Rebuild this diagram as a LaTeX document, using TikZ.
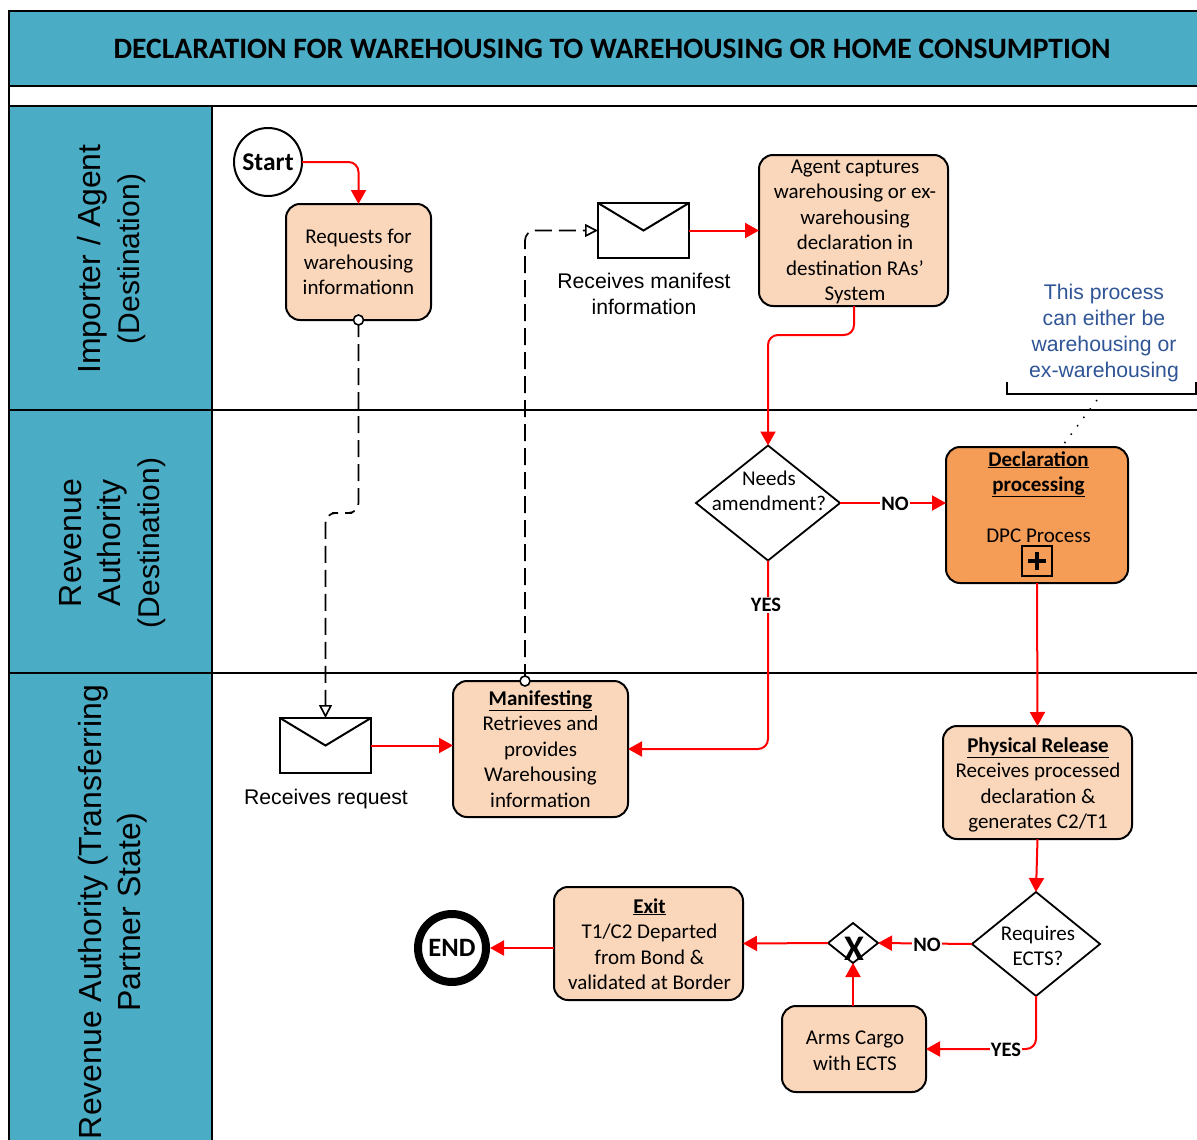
\documentclass[tikz,border=0pt]{standalone}
\usepackage{fontspec}
\setmainfont{Carlito}
\newfontfamily\lib{Liberation Sans}
\usetikzlibrary{arrows.meta,shapes.geometric,calc}
\definecolor{lanecol}{HTML}{4BACC6}
\definecolor{peach}{HTML}{FAD7BB}
\definecolor{orangebox}{HTML}{F59D56}
\definecolor{notecol}{HTML}{2F5597}
\newcommand{\hd}[1]{\underline{\textbf{#1}}}
\tikzset{
  x=1pt,y=-1pt,
  laneband/.style={draw=black,line width=2pt,fill=lanecol},
  sepline/.style={draw=black,line width=2pt},
  lanetext/.style={rotate=90,align=center,font=\lib\fontsize{32}{39}\selectfont,inner sep=0},
  taskbox/.style={draw=black,line width=2pt,rounded corners=14pt,fill=peach,inner sep=0,outer sep=0,align=center,font=\fontsize{21}{25.5}\selectfont},
  boxtext/.style={font=\fontsize{21}{25.5}\selectfont,align=center,inner sep=0},
  decbox/.style={diamond,draw=black,line width=1.8pt,fill=white,inner sep=0,outer sep=0,aspect=1.25,align=center,font=\fontsize{21}{25.5}\selectfont},
  envbox/.style={draw=black,line width=2pt,fill=white,inner sep=0,outer sep=0,minimum width=91pt,minimum height=55pt},
  captext/.style={align=center,inner sep=0,font=\lib\fontsize{21.2}{25.5}\selectfont},
  flowline/.style={draw=red,line width=2pt,rounded corners=10pt,-{Triangle[length=14pt,width=15pt,fill=red]}},
  msgline/.style={draw=black,line width=1.7pt,dash pattern=on 17pt off 7pt,rounded corners=10pt,-{Triangle[open,length=13pt,width=13pt,fill=white]}},
  dotmark/.style={circle,draw=black,line width=1.6pt,fill=white,minimum size=10pt,inner sep=0},
  lablebox/.style={fill=white,inner sep=1pt,font=\bfseries\fontsize{20.5}{24}\selectfont},
}
\begin{document}
\begin{tikzpicture}
\useasboundingbox (0,0) rectangle (1197,1140);
\fill[white] (0,0) rectangle (1197,1140);
\begin{scope}
\clip (0,0) rectangle (1197,1140);
% frame
\draw[laneband] (9,11) rectangle (1210,86);
\draw[sepline] (9,86) -- (9,1150);
\draw[sepline] (9,106) -- (1210,106);
\draw[laneband] (9,106) rectangle (212,1150);
\draw[sepline] (9,410) -- (1210,410);
\draw[sepline] (9,673) -- (1210,673);
\node[font=\bfseries\fontsize{29.6}{32}\selectfont,inner sep=0] (title) at (612,49) {DECLARATION FOR WAREHOUSING TO WAREHOUSING OR HOME CONSUMPTION};
\node[lanetext] (lane1) at (112,259) {Importer / Agent\\{\fontsize{30}{34}\selectfont(Destination)}};
\node[lanetext] (lane2) at (112.5,543) {Revenue\\Authority\\{\fontsize{30}{34}\selectfont(Destination)}};
\node[lanetext] (lane3) at (113,912) {Revenue Authority (Transferring\\Partner State)};
\end{scope}
% nodes
\node[circle,draw=black,line width=2pt,fill=white,minimum size=68pt,inner sep=0,outer sep=0,font=\bfseries\fontsize{25.5}{28}\selectfont] (start) at (268,162) {Start};
\node[taskbox,minimum width=145pt,minimum height=116pt] (req) at (358.5,262) {Requests for\\warehousing\\informationn};
\node[envbox] (env2) at (643.5,230.5) {};
\node[taskbox,minimum width=189pt,minimum height=151pt] (agent) at (853.5,230.5) {};
\node[boxtext] (agentt) at (855,232) {Agent captures\\warehousing or ex-\\warehousing\\declaration in\\destination RAs’\\System};
\node[captext] (cap2) at (644,294) {Receives manifest\\information};
\node[decbox,minimum width=144pt,minimum height=115pt] (needs) at (768,503) {};
\node[boxtext] (needst) at (769,491) {Needs\\amendment?};
\node[taskbox,fill=orangebox,minimum width=182pt,minimum height=136pt] (decl) at (1037,515) {};
\node[boxtext] (declt) at (1038.5,497) {\hd{Declaration}\\\hd{processing}\\[25.5pt]DPC Process};
\node[draw=black,line width=2pt,minimum size=30pt,inner sep=0] (plus) at (1037,561) {};
\node[align=center,inner sep=0,text=notecol,font=\lib\fontsize{21.2}{25.7}\selectfont] (note) at (1104,333) {This process\\can either be\\warehousing or\\ex-warehousing};
\node[envbox] (env1) at (325.5,745.5) {};
\node[captext] (cap1) at (326,799) {Receives request};
\node[taskbox,minimum width=175pt,minimum height=136pt] (man) at (540.5,749) {\hd{Manifesting}\\Retrieves and\\provides\\Warehousing\\information};
\node[taskbox,minimum width=189pt,minimum height=113pt] (phys) at (1037.5,782.5) {};
\node[boxtext] (physt) at (1038,785) {\hd{Physical Release}\\Receives processed\\declaration \&\\generates C2/T1};
\node[decbox,minimum width=128pt,minimum height=104pt] (ects) at (1036,944) {};
\node[boxtext] (ectst) at (1038,946) {Requires\\ECTS?};
\node[decbox,minimum width=50pt,minimum height=40pt] (gate) at (853,943) {};
\node[inner sep=0,font=\bfseries\fontsize{36}{36}\selectfont] (gatex) at (854,949) {X};
\node[taskbox,minimum width=189pt,minimum height=113pt] (exit) at (648.5,943.5) {};
\node[boxtext] (exitt) at (649.5,944) {\hd{Exit}\\T1/C2 Departed\\from Bond \&\\validated at Border};
\node[taskbox,minimum width=144pt,minimum height=86pt] (arms) at (854,1049) {};
\node[boxtext] (armst) at (855,1051) {Arms Cargo\\with ECTS};
\node[circle,draw=black,line width=8pt,fill=white,minimum size=68pt,inner sep=0,outer sep=4pt,font=\bfseries\fontsize{26.5}{28}\selectfont] (end) at (452,948) {END};
% envelope flaps
\draw[line width=2pt] (env2.north west) -- (env2.center) -- (env2.north east);
\draw[line width=2pt] (env1.north west) -- (env1.center) -- (env1.north east);
% plus
\draw[line width=3.4pt] ($(plus.center)+(-9,0)$) -- ($(plus.center)+(9,0)$);
\draw[line width=3.4pt] ($(plus.center)+(0,-9)$) -- ($(plus.center)+(0,9)$);
% connectors
\coordinate (ag) at (854,306);
\coordinate (c1) at (811,335);
\coordinate (c2) at (342,513);
\coordinate (mout) at (525,681);
\draw[flowline] (start.east) -| (req.north);
\draw[flowline] (env2.east) -- (agent.west);
\draw[flowline] (ag) |- (c1) -| (needs.north);
\draw[flowline] (needs.east) -- (decl.west|-needs.east);
\draw[flowline] (needs.south) |- (man.east);
\draw[flowline] (decl.south) -- (phys.north);
\draw[flowline] (phys.south) -- (ects.north);
\draw[flowline] (ects.west) -- (gate.east);
\draw[flowline] (gate.west) -- (exit.east);
\draw[flowline] (exit.west|-end.east) -- (end.east);
\draw[flowline] (ects.south) |- (arms.east);
\draw[flowline] (arms.north-|gate.south) -- (gate.south);
\draw[flowline] (env1.east) -- (man.west|-env1.east);
\draw[msgline] (req.south) |- (c2) -| (env1.north);
\draw[msgline] (mout) |- (env2.west);
\node[dotmark] (d1) at (req.south) {};
\node[dotmark] (d2) at (mout) {};
\node[lablebox] (no1) at (895,504) {NO};
\node[lablebox] (yes1) at (766,605) {YES};
\node[lablebox] (no2) at (927,945) {NO};
\node[lablebox] (yes2) at (1006,1050) {YES};
% bracket
\coordinate (bl) at (1007,382);
\coordinate (br) at (1196,382);
\coordinate (bm) at (1097,400);
\coordinate (dm) at (1063,445);
\draw[line width=1.8pt] (bl) -- (1007,394) -- (1196,394) -- (br);
\draw[line width=1.5pt,dash pattern=on 1.5pt off 9pt] (bm) -- (dm);
\end{tikzpicture}
\end{document}
